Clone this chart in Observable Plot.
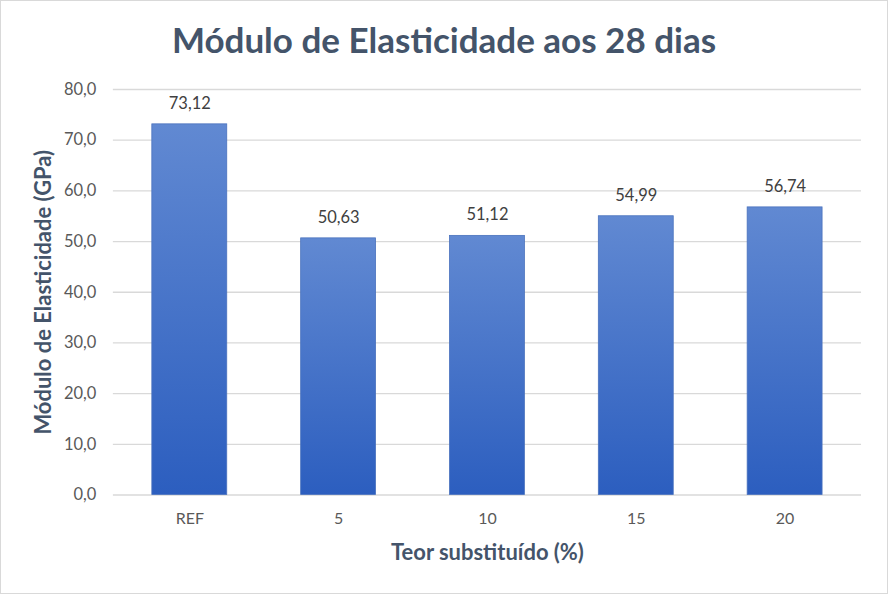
<!DOCTYPE html>
<html>
<head>
<meta charset="utf-8">
<script src="https://cdn.jsdelivr.net/npm/d3@7"></script>
<script src="https://cdn.jsdelivr.net/npm/@observablehq/plot@0.6"></script>
<style>
  html, body { margin: 0; padding: 0; background: #fff; }
  #frame { position: relative; width: 886px; height: 592px; border: 1px solid #d9d9d9; background: #fff; overflow: hidden; }
  #title { position: absolute; left: 0; top: 17px; width: 886px; text-align: center; font-family: Lato, "Open Sans", sans-serif; font-weight: 700; font-size: 35px; color: #44546a; }
  #chart { position: absolute; left: -1px; top: 69px; }
</style>
</head>
<body>
<div id="frame">
  <div id="title">Módulo de Elasticidade aos 28 dias</div>
  <div id="chart"></div>
</div>
<script>
const categories = ["REF", "5", "10", "15", "20"];
const values = [73.12, 50.63, 51.12, 54.99, 56.74];
const yTicks = [0, 10, 20, 30, 40, 50, 60, 70, 80];

const data = categories.map((c, i) => ({cat: c, val: values[i]}));
const pt = d3.formatLocale({decimal: ",", thousands: ".", grouping: [3], currency: ["", ""]});
const f1 = pt.format(".1f");
const f2 = pt.format(".2f");

const font = 'Lato, "Open Sans", sans-serif';

const plot = Plot.plot({
  width: 888,
  height: 525,
  marginTop: 19,
  marginBottom: 100,
  marginLeft: 113,
  marginRight: 26,
  style: {fontFamily: font, fontSize: "16px", color: "#595959", background: "transparent", overflow: "visible"},
  x: {domain: categories, paddingInner: 0.5, paddingOuter: 0.25, label: null},
  y: {domain: [0, 80], label: null},
  marks: [
    () => {
      const ns = "http://www.w3.org/2000/svg";
      const defs = document.createElementNS(ns, "defs");
      defs.innerHTML = '<linearGradient id="barGrad" x1="0" y1="0" x2="0" y2="1">' +
        '<stop offset="0" stop-color="#6189d2"/>' +
        '<stop offset="1" stop-color="#2c5ebf"/></linearGradient>';
      return defs;
    },
    Plot.ruleY(yTicks, {stroke: "#d9d9d9", strokeWidth: 1.3}),
    Plot.barY(data, {x: "cat", y: "val", fill: "url(#barGrad)", stroke: "#4a72bd", strokeWidth: 0.8}),
    Plot.text(data, {x: "cat", y: "val", text: d => f2(d.val), dy: -21, fill: "#404040", fontSize: 16.5}),
    Plot.axisY({ticks: yTicks, tickFormat: f1, tickSize: 0, tickPadding: 17, fontSize: 16.5, label: null}),
    Plot.axisX({tickSize: 0, tickPadding: 18, fontSize: 16, label: null}),
    Plot.text(["Teor substituído (%)"], {frameAnchor: "bottom", lineAnchor: "middle", textAnchor: "middle", dy: 58, text: d => d, fontSize: 22, fontWeight: "bold", fill: "#44546a"}),
    Plot.text(["Módulo de Elasticidade (GPa)"], {frameAnchor: "left", textAnchor: "middle", lineAnchor: "middle", dx: -69, rotate: -90, text: d => d, fontSize: 22, fontWeight: "bold", fill: "#44546a"})
  ]
});
document.getElementById("chart").appendChild(plot);
</script>
</body>
</html>
